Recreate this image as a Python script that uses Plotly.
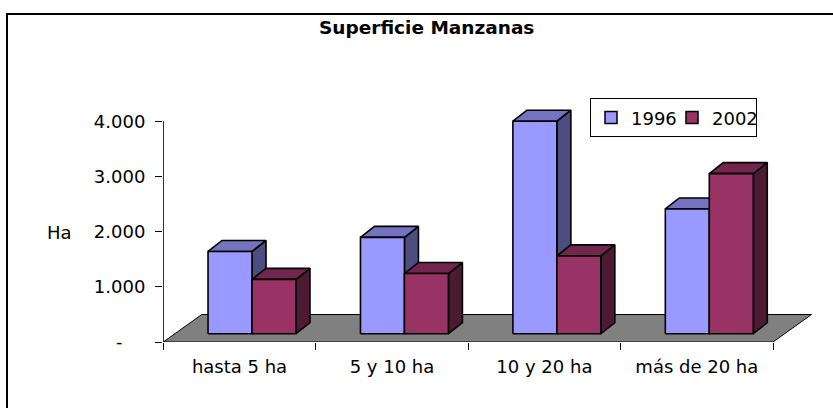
import plotly.graph_objects as go

# ---------------- data ----------------
categories = ["hasta 5 ha", "5 y 10 ha", "10 y 20 ha", "más de 20 ha"]
series_names = ["1996", "2002"]
values_1996 = [1490, 1745, 3850, 2260]
values_2002 = [985, 1090, 1410, 2900]
y_tickvals = [0, 1000, 2000, 3000, 4000]
y_ticktext = ["-", "1.000", "2.000", "3.000", "4.000"]
y_title = "Ha"
chart_title = "Superficie Manzanas"

# ---------------- styling / geometry ----------------
W, H = 833, 408
L, R, T, B = 163, 15, 100, 66
plot_w = W - L - R
plot_h = H - T - B
PX_PER_CAT = 152.5
PX_PER_UNIT = 0.0552
X0 = -0.5
x_range = [X0 - 0.002, X0 + plot_w / PX_PER_CAT]
y_range = [0, plot_h / PX_PER_UNIT]

FONT = "DejaVu Sans"
front_cols = ["#9999FF", "#993366"]
top_cols = ["#7373C0", "#73264D"]
side_cols = ["#4D4D80", "#4D1A33"]
legend_widths = [36, 39]


def dxu(px):
    return px / PX_PER_CAT


def dyu(px):
    return px / PX_PER_UNIT


def px_to_paper_x(px):
    return (px - L) / plot_w


def px_to_paper_y(py):
    return (H - B - py) / plot_h


BAR_W = dxu(44)
BAR_OFF = [dxu(-31.5), dxu(12.5)]
BAR_BASE = dyu(8.3)
DEPTH_X, DEPTH_Y = dxu(14), dyu(11)
FLOOR_X, FLOOR_Y = dxu(38.5), dyu(27.5)

fig = go.Figure()

# floor
n = len(categories)
fx = [X0, X0 + n, X0 + n + FLOOR_X, X0 + FLOOR_X, X0]
fy = [0, 0, FLOOR_Y, FLOOR_Y, 0]
fig.add_trace(go.Scatter(x=fx, y=fy, mode="lines", fill="toself",
                         fillcolor="#808080", line=dict(color="#000000", width=1),
                         hoverinfo="skip", showlegend=False))

all_values = [values_1996, values_2002]
for s, vals in enumerate(all_values):
    side_x, side_y, top_x, top_y, fr_x, fr_y = [], [], [], [], [], []
    for i, v in enumerate(vals):
        x0 = i + BAR_OFF[s]
        x1 = x0 + BAR_W
        y0 = BAR_BASE
        y1 = BAR_BASE + v
        side_x += [x1, x1 + DEPTH_X, x1 + DEPTH_X, x1, x1, None]
        side_y += [y0, y0 + DEPTH_Y, y1 + DEPTH_Y, y1, y0, None]
        top_x += [x0, x1, x1 + DEPTH_X, x0 + DEPTH_X, x0, None]
        top_y += [y1, y1, y1 + DEPTH_Y, y1 + DEPTH_Y, y1, None]
        fr_x += [x0, x1, x1, x0, x0, None]
        fr_y += [y0, y0, y1, y1, y0, None]
    for xs, ys, col in [(side_x, side_y, side_cols[s]),
                        (top_x, top_y, top_cols[s]),
                        (fr_x, fr_y, front_cols[s])]:
        fig.add_trace(go.Scatter(x=xs, y=ys, mode="lines", fill="toself",
                                 fillcolor=col, line=dict(color="#000000", width=1.6),
                                 hoverinfo="skip", showlegend=False))

# legend entries
for s, name in enumerate(series_names):
    fig.add_trace(go.Scatter(x=[None], y=[None], mode="markers", name=name,
                             legendwidth=legend_widths[s],
                             marker=dict(symbol="square", size=12, color=front_cols[s],
                                         line=dict(color="#000000", width=1.5))))

# helper trace for category label axis
fig.add_trace(go.Scatter(x=[None], y=[None], xaxis="x2", yaxis="y",
                         showlegend=False, hoverinfo="skip"))

ytext = [t + "\u00a0" * 4 if t == "-" else t for t in y_ticktext]

fig.update_layout(
    width=W, height=H,
    margin=dict(l=L, r=R, t=T, b=B),
    paper_bgcolor="white", plot_bgcolor="white",
    font=dict(family=FONT, size=18, color="#000000"),
    title=dict(text=chart_title, xref="container", yref="container",
               x=426.7 / W, y=1 - 28 / H, xanchor="center", yanchor="middle",
               font=dict(family=FONT, size=18.5, color="#000000", weight="bold")),
    xaxis=dict(range=x_range, tickvals=[X0 + k for k in range(n + 1)],
               showticklabels=False, ticks="outside", ticklen=7, tickcolor="#000000",
               tickwidth=1, showgrid=False, zeroline=False, showline=False),
    xaxis2=dict(range=x_range, overlaying="x", anchor="y", side="bottom",
                tickvals=list(range(n)), ticktext=categories, ticks="",
                showgrid=False, zeroline=False, showline=False,
                tickfont=dict(family=FONT, size=18, color="#000000"),
                ticklabelstandoff=12),
    yaxis=dict(range=y_range, tickvals=y_tickvals, ticktext=ytext,
               ticks="outside", ticklen=7, tickcolor="#000000", tickwidth=1,
               showgrid=False, zeroline=False, showline=False,
               tickfont=dict(family=FONT, size=18, color="#000000"),
               ticklabelstandoff=6),
    legend=dict(orientation="h", x=px_to_paper_x(590), y=px_to_paper_y(98.3),
                xanchor="left", yanchor="top", bgcolor="white",
                bordercolor="#000000", borderwidth=1,
                font=dict(family=FONT, size=18, color="#000000"),
                itemwidth=30, tracegroupgap=0, entrywidthmode="pixels"),
    shapes=[
        dict(type="line", xref="x", yref="y", x0=X0, x1=X0, y0=0,
             y1=max(y_tickvals), line=dict(color="#000000", width=1)),
        dict(type="rect", xref="paper", yref="paper",
             x0=px_to_paper_x(7), x1=px_to_paper_x(850),
             y0=px_to_paper_y(430), y1=px_to_paper_y(14),
             line=dict(color="#000000", width=2), fillcolor="rgba(0,0,0,0)"),
    ],
    annotations=[
        dict(text=y_title, xref="paper", yref="paper", x=px_to_paper_x(59),
             y=px_to_paper_y(232), showarrow=False, xanchor="center", yanchor="middle",
             font=dict(family=FONT, size=18, color="#000000")),
    ],
)

fig.write_html("out.html", config={"displayModeBar": False},
               post_script="document.body.style.margin='0';")
